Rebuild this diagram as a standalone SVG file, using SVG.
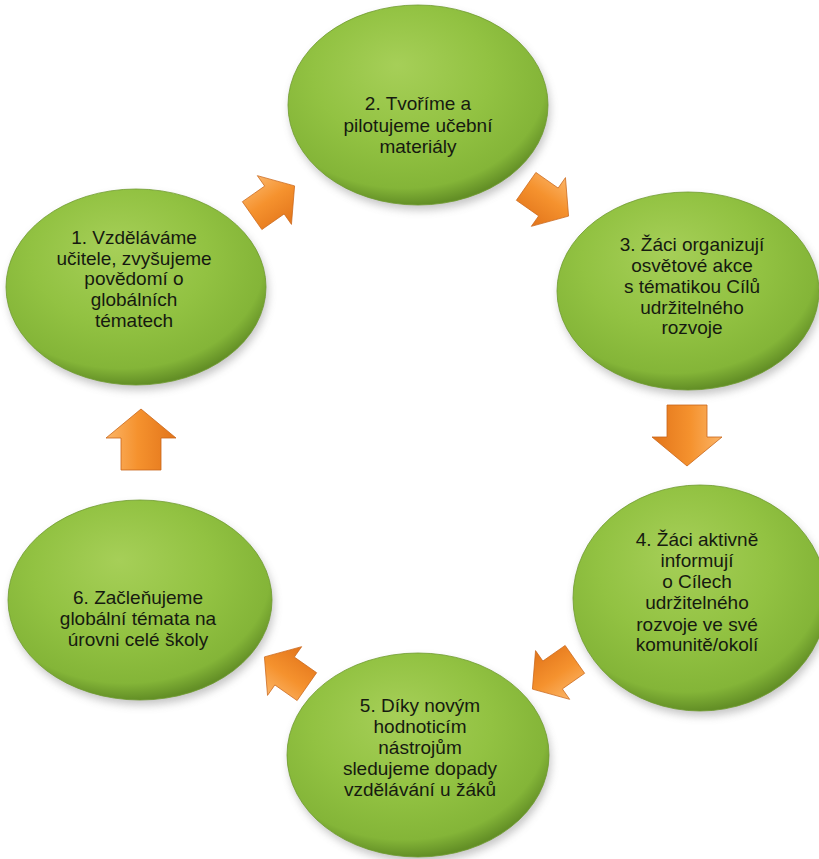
<svg xmlns="http://www.w3.org/2000/svg" width="819" height="859" viewBox="0 0 819 859">
<style>
.node-shape{fill:url(#g);stroke:#6f9a2e;stroke-width:0.8}
.shadow{fill:#7f7f7f;opacity:0.45;filter:url(#blur)}
.lbl{font-family:"Liberation Sans",Arial,sans-serif;font-size:19px;fill:#161a10;text-anchor:middle}
.arr{fill:url(#og);stroke:#c8661a;stroke-width:0.8}
</style>
<defs>
<radialGradient id="g" cx="0.45" cy="0.38" r="0.62" fx="0.42" fy="0.3">
<stop offset="0" stop-color="#a6cf58"/>
<stop offset="0.55" stop-color="#92c242"/>
<stop offset="0.88" stop-color="#84b538"/>
<stop offset="1" stop-color="#638f26"/>
</radialGradient>
<linearGradient id="og" x1="0" y1="0" x2="0" y2="1">
<stop offset="0" stop-color="#fbb568"/>
<stop offset="0.45" stop-color="#f5922e"/>
<stop offset="1" stop-color="#e2741a"/>
</linearGradient>
<filter id="blur" x="-20%" y="-20%" width="140%" height="140%"><feGaussianBlur stdDeviation="4"/></filter>
<path id="arrow" d="M-30,-20 L2,-20 L2,-35 L31,0 L2,35 L2,20 L-30,20 Z"/>
</defs>
<rect width="819" height="859" fill="#ffffff"/>
<g id="connectors">
<use href="#arrow" class="arr" transform="translate(273,201) scale(0.85) rotate(-35)"/>
<use href="#arrow" class="arr" transform="translate(547,201) scale(0.85) rotate(35)"/>
<use href="#arrow" class="arr" transform="translate(687,435) rotate(90)"/>
<use href="#arrow" class="arr" transform="translate(554,674) scale(0.85) rotate(145)"/>
<use href="#arrow" class="arr" transform="translate(286,672) scale(0.85) rotate(-145)"/>
<use href="#arrow" class="arr" transform="translate(141,440) rotate(-90)"/>
</g>
<g id="node2">
<ellipse class="shadow" cx="420" cy="110" rx="130" ry="100"/>
<ellipse class="node-shape" cx="418" cy="105" rx="130" ry="100"/>
<text class="lbl"><tspan x="418" y="110">2. Tvoříme a</tspan><tspan x="418" y="132">pilotujeme učební</tspan><tspan x="418" y="153">materiály</tspan></text>
</g>
<g id="node1">
<ellipse class="shadow" cx="138" cy="292" rx="130" ry="98"/>
<ellipse class="node-shape" cx="136" cy="287" rx="130" ry="98"/>
<text class="lbl"><tspan x="134" y="244">1. Vzděláváme</tspan><tspan x="134" y="265">učitele, zvyšujeme</tspan><tspan x="134" y="285">povědomí o</tspan><tspan x="134" y="306">globálních</tspan><tspan x="134" y="327">tématech</tspan></text>
</g>
<g id="node3">
<ellipse class="shadow" cx="690" cy="296" rx="131" ry="99"/>
<ellipse class="node-shape" cx="688" cy="291" rx="131" ry="99"/>
<text class="lbl"><tspan x="692" y="251">3. Žáci organizují</tspan><tspan x="692" y="272">osvětové akce</tspan><tspan x="692" y="293">s tématikou Cílů</tspan><tspan x="692" y="314">udržitelného</tspan><tspan x="692" y="334">rozvoje</tspan></text>
</g>
<g id="node4">
<ellipse class="shadow" cx="702" cy="603" rx="127" ry="113"/>
<ellipse class="node-shape" cx="700" cy="598" rx="127" ry="113"/>
<text class="lbl"><tspan x="697" y="546">4. Žáci aktivně</tspan><tspan x="697" y="567">informují</tspan><tspan x="697" y="588">o Cílech</tspan><tspan x="697" y="609">udržitelného</tspan><tspan x="697" y="631">rozvoje ve své</tspan><tspan x="697" y="651">komunitě/okolí</tspan></text>
</g>
<g id="node5">
<ellipse class="shadow" cx="420" cy="760" rx="131" ry="102"/>
<ellipse class="node-shape" cx="418" cy="755" rx="131" ry="102"/>
<text class="lbl"><tspan x="420" y="712">5. Díky novým</tspan><tspan x="420" y="733">hodnoticím</tspan><tspan x="420" y="754">nástrojům</tspan><tspan x="420" y="775">sledujeme dopady</tspan><tspan x="420" y="796">vzdělávání u žáků</tspan></text>
</g>
<g id="node6">
<ellipse class="shadow" cx="142" cy="605" rx="132" ry="100"/>
<ellipse class="node-shape" cx="140" cy="600" rx="132" ry="100"/>
<text class="lbl"><tspan x="138" y="604">6. Začleňujeme</tspan><tspan x="138" y="625">globální témata na</tspan><tspan x="138" y="646">úrovni celé školy</tspan></text>
</g>
</svg>
